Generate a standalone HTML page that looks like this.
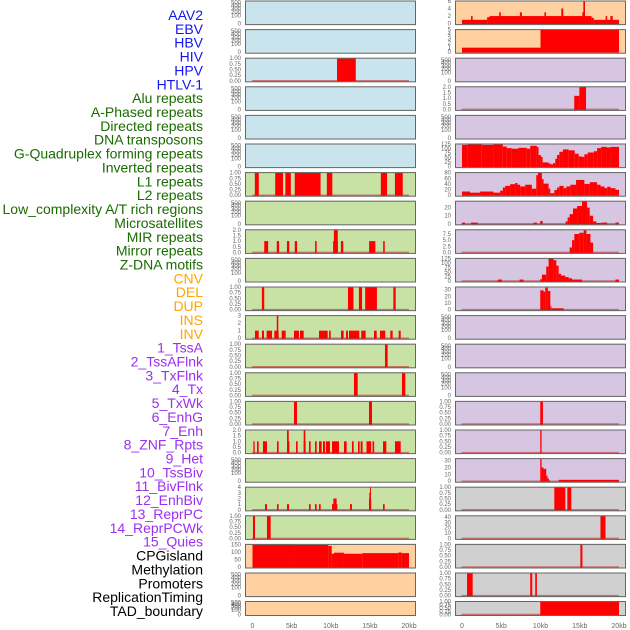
<!DOCTYPE html>
<html><head><meta charset="utf-8">
<style>
html,body{margin:0;padding:0;background:#fff;}
svg{display:block;font-family:"Liberation Sans",sans-serif;}
</style></head>
<body>
<svg id="chart" width="630" height="630" viewBox="0 0 630 630"></svg>
<script>
// ---- labels ----
const trackLabels = ["AAV2","EBV","HBV","HIV","HPV","HTLV-1","Alu repeats","A-Phased repeats","Directed repeats","DNA transposons","G-Quadruplex forming repeats","Inverted repeats","L1 repeats","L2 repeats","Low_complexity A/T rich regions","Microsatellites","MIR repeats","Mirror repeats","Z-DNA motifs","CNV","DEL","DUP","INS","INV","1_TssA","2_TssAFlnk","3_TxFlnk","4_Tx","5_TxWk","6_EnhG","7_Enh","8_ZNF_Rpts","9_Het","10_TssBiv","11_BivFlnk","12_EnhBiv","13_ReprPC","14_ReprPCWk","15_Quies","CPGisland","Methylation","Promoters","ReplicationTiming","TAD_boundary"];
const labelGroups = [6,13,5,15,5];
const groupColors = ["#1515f0","#1a6b00","#ffa500","#9b30ee","#000000"];
const xTicks = [0,5,10,15,20];
const xTickLabels = ["0","5kb","10kb","15kb","20kb"];

// ---- data (kb start, kb end, value) ----
const hivL = [[10.8,13.2,1]];
const l6 = [[0.3,0.8,1],[2.9,3.9,1],[4.2,4.9,1],[5.4,8.7,1],[9.5,10.2,1],[16.4,17.2,1],[18.2,19.2,1]];
const l8 = [[1.5,2.0,1],[3.1,3.4,1],[4.4,4.7,1],[5.4,5.7,1],[8.0,8.2,1],[10.3,10.9,1],[10.4,10.9,2],[11.3,11.6,1],[14.9,15.7,1],[16.7,16.9,1]];
const l10 = [[1.2,1.5,1],[12.2,12.9,1],[13.6,14.0,1],[14.4,15.9,1],[18.0,18.3,1]];
const l11 = [[0.32,0.79,1],[1.21,1.47,1],[1.81,2.49,1],[2.79,3.34,1],[3.1,3.3,3],[3.73,4.24,1],[5.30,5.94,1],[6.07,6.54,1],[8.50,9.61,1],[9.78,9.99,1],[11.31,11.65,1],[11.95,12.20,1],[12.33,13.65,1],[13.90,14.46,1],[15.53,15.87,1],[16.29,16.97,1],[17.61,17.91,1],[18.68,18.94,1]];
const l12 = [[16.93,17.27,1]];
const l13 = [[12.97,13.44,1],[19.1,19.53,1]];
const l14 = [[5.30,5.69,1],[14.89,15.27,1]];
const l15 = [[0.11,0.28,1],[0.58,0.79,1],[1.34,1.85,1],[3.13,3.34,1],[4.41,4.71,1],[4.41,4.63,2],[5.56,5.77,1],[6.54,6.79,1],[6.54,6.75,2],[7.22,7.43,1],[7.99,8.20,1],[8.50,8.84,1],[9.01,9.27,1],[9.39,9.90,1],[10.16,11.05,1],[11.69,12.03,1],[12.71,12.93,1],[13.48,13.69,1],[13.82,14.07,1],[14.57,15.17,1],[15.34,15.55,1],[16.68,17.10,1],[18.21,18.94,1]];
const l17 = [[1.60,1.85,1],[3.13,3.34,1],[4.41,4.67,1],[7.22,7.43,1],[7.99,8.20,1],[8.50,8.71,1],[10.16,10.84,1],[10.33,10.75,2],[12.46,12.71,1],[14.89,15.17,2],[14.93,15.10,3],[15.01,15.10,4],[16.68,16.89,1]];
const l18 = [[0.06,0.32,1],[1.85,2.32,1]];
const cpgEdges = [0,5.3,9.69,10.12,10.42,11.69,14.03,18.64,19.06,20];
const cpgValues = [148,146,140,88,95,88,92,96,92];

const aav2R = [[0,3.2,1],[3.2,3.5,1.7],[3.5,16.5,2],[16.5,16.8,1.5],[16.8,20,1],[1.15,1.36,2],[4.73,4.94,3],[7.37,7.63,3],[10.5,10.7,3],[12.65,12.9,4],[15.33,15.55,3],[15.46,15.67,6],[18.3,18.5,2],[18.9,19.2,2]];
const ebvR = [[0,10,1],[10,20,5]];
const hpvR = [[14.3,14.95,1.2],[14.95,15.8,2]];
const aluEdges = [0,0.72,2.52,4.0,5.2,5.71,6.35,7.2,8.26,8.69,9.54,9.75,10.05,10.27,11.03,11.33,11.59,11.88,12.1,12.4,12.86,13.59,14.36,14.87,15.29,15.59,16.02,16.78,17.21,17.72,18.4,18.91,20];
const aluValues = [120,123,120,123,111,102,99,104,99,115,108,64,54,23,17,12,19,43,64,82,95,90,71,56,54,68,78,85,102,109,106,109];
const l1Edges = [0,1.02,2.30,4.0,4.86,5.2,5.5,6.13,6.77,7.07,7.41,8.05,8.9,9.46,9.67,10.18,10.39,11.03,11.25,11.76,12.1,12.4,12.95,13.29,13.8,14.53,15.59,16.27,17.21,17.64,18.15,18.49,18.91,19.55,20];
const l1Values = [13,9,13,9,16,27,33,39,43,37,31,37,23,71,80,57,41,23,7,18,27,33,25,31,37,54,40,46,37,31,25,30,25,19];
const r7 = [[0,0.38,1.5],[1.15,2.0,1.5],[9.12,9.54,1.5],[9.97,10.27,3.5],[13.2,13.46,3],[13.46,13.72,8],[13.72,14.14,12],[14.14,14.66,19],[14.66,15.29,22],[15.29,15.93,28],[15.93,16.27,20],[16.27,16.7,10],[16.7,17.12,3],[17.12,17.72,1],[17.76,18.49,1.5],[19.55,20,1.5]];
const r8 = [[13.72,14.02,2],[14.02,14.31,5],[14.31,14.95,7.5],[14.95,15.5,8],[15.5,15.85,9],[15.85,16.36,7.5],[16.36,16.7,4]];
const r9 = [[4.56,5.07,8],[7.33,7.84,8],[9.97,10.18,10],[10.18,10.73,35],[10.73,11.03,80],[11.03,11.67,125],[11.67,12.01,115],[12.01,12.31,85],[12.31,12.61,40],[12.61,13.16,30],[13.16,13.59,22],[13.59,14.02,15],[14.02,15.29,8],[19.55,20,8]];
const r10 = [[9.97,10.39,29],[10.39,10.6,27],[10.6,10.94,33],[10.94,11.25,28],[11.25,11.38,5],[11.38,12.95,2]];
const r14 = [[9.97,10.31,1]];
const r15 = [[9.97,10.14,1]];
const r16 = [[9.97,10.14,33],[10.14,10.39,20],[10.39,10.73,18],[10.73,10.9,8],[10.9,11.07,4],[11.07,11.25,1],[12.31,20,2]];
const r17 = [[11.76,13.16,1],[13.42,13.93,1]];
const r18 = [[17.64,18.28,42]];
const r19 = [[15.08,15.34,1]];
const r20 = [[0.64,1.36,1],[8.69,8.95,1],[9.33,9.54,1]];
const r21 = [[9.97,20,1]];

const ticks01 = ["0.00","0.25","0.50","0.75","1.00"];
const ticks02 = ["0.0","0.5","1.0","1.5","2.0"];

// ---- helpers ----
const NS = "http://www.w3.org/2000/svg";
const svg = document.getElementById("chart");
function mk(tag, attrs, parent){ const e=document.createElementNS(NS,tag); for(const k in attrs) e.setAttribute(k,attrs[k]); (parent||svg).appendChild(e); return e; }
function stepSegs(edges, vals){ const s=[]; for(let i=0;i<vals.length;i++) s.push([edges[i],edges[i+1],vals[i]]); return s; }

const colX = [{x0:245,x1:416,d0:252.5,d1:409,tx:241},{x0:455,x1:626,d0:462,d1:619,tx:451}];
function rowTop(i){ return i<21 ? 0.5+i*28.6 : 601; }
function rowH(i){ return i<21 ? 24.6 : 15; }
function xScale(col,kb){ const c=colX[col]; return c.d0 + (c.d1-c.d0)*kb/20; }

const bgL = ["#c9e4ec","#c9e4ec","#c9e4ec","#c9e4ec","#c9e4ec","#c9e4ec","#c8e2a5","#c8e2a5","#c8e2a5","#c8e2a5","#c8e2a5","#c8e2a5","#c8e2a5","#c8e2a5","#c8e2a5","#c8e2a5","#c8e2a5","#c8e2a5","#c8e2a5","#ffd0a0","#ffd0a0","#ffd0a0"];
const bgR = ["#ffd0a0","#ffd0a0","#d6c6e2","#d6c6e2","#d6c6e2","#d6c6e2","#d6c6e2","#d6c6e2","#d6c6e2","#d6c6e2","#d6c6e2","#d6c6e2","#d6c6e2","#d6c6e2","#d6c6e2","#d6c6e2","#d6c6e2","#d0d0d0","#d0d0d0","#d0d0d0","#d0d0d0","#d0d0d0"];

const P = [];
function spec(col,row,segs,tl,tv,ymax,base){ P.push({col,row,segs,tl,tv,ymax,base}); }
const v01=[0,0.25,0.5,0.75,1], v02=[0,0.5,1,1.5,2];
spec(0,2,hivL,ticks01,v01,1,true);
spec(0,6,l6,ticks01,v01,1,true);
spec(0,8,l8,ticks02,v02,2,true);
spec(0,10,l10,ticks01,v01,1,true);
spec(0,11,l11,["0","1","2","3"],[0,1,2,3],3,true);
spec(0,12,l12,ticks01,v01,1,true);
spec(0,13,l13,ticks01,v01,1,true);
spec(0,14,l14,ticks01,v01,1,true);
spec(0,15,l15,ticks02,v02,2,true);
spec(0,17,l17,["0","1","2","3","4"],[0,1,2,3,4],4,true);
spec(0,18,l18,ticks01,v01,1,true);
spec(0,19,stepSegs(cpgEdges,cpgValues),["0","50","100","150"],[0,50,100,150],150,false);
spec(1,0,aav2R,["0","2","4","6"],[0,2,4,6],6,false);
spec(1,1,ebvR,["0","1","2","3","4","5"],[0,1,2,3,4,5],5,false);
spec(1,3,hpvR,ticks02,v02,2,true);
spec(1,5,stepSegs(aluEdges,aluValues),["0","25","50","75","100","125"],[0,25,50,75,100,125],125,false);
spec(1,6,stepSegs(l1Edges,l1Values),["0","20","40","60","80"],[0,20,40,60,80],80,false);
spec(1,7,r7,["0","10","20"],[0,10,20],28,true);
spec(1,8,r8,["0.0","2.5","5.0","7.5"],[0,2.5,5,7.5],9.2,true);
spec(1,9,r9,["0","25","50","75","100","125"],[0,25,50,75,100,125],125,true);
spec(1,10,r10,["0","10","20","30"],[0,10,20,30],34,true);
spec(1,14,r14,ticks01,v01,1,true);
spec(1,15,r15,ticks01,v01,1,true);
spec(1,16,r16,["0","10","20","30"],[0,10,20,30],33,true);
spec(1,17,r17,ticks01,v01,1,true);
spec(1,18,r18,["0","10","20","30","40"],[0,10,20,30,40],42,true);
spec(1,19,r19,ticks01,v01,1,true);
spec(1,20,r20,ticks01,v01,1,true);
spec(1,21,r21,ticks01,v01,1,true);

// ---- labels ----
let li=0;
labelGroups.forEach((n,g)=>{
  for(let k=0;k<n;k++,li++){
    const t=mk("text",{x:203,y:15+li*13.86+5,"text-anchor":"end","font-size":"14",fill:groupColors[g]});
    t.textContent=trackLabels[li];
    
    
  }
});

// ---- panels ----
for(let col=0;col<2;col++){
  for(let r=0;r<22;r++){
    const c=colX[col], top=rowTop(r), h=rowH(r);
    const p=P.find(q=>q.col===col&&q.row===r);
    const g=mk("g",{});
    
    
    mk("rect",{x:c.x0,y:top,width:c.x1-c.x0,height:h,fill:(col?bgR:bgL)[r]},g);
    const y0=top+h-1.5, yr=h-2;
    if(!p){
      const lbl=["0","100","200","300","400","500"], fr=[0,0.36,0.52,0.66,0.8,0.93];
      lbl.forEach((s,i)=>{ const t=mk("text",{x:c.tx,y:y0-fr[i]*yr+2,"text-anchor":"end","font-size":"6",fill:"#666"},g); t.textContent=s;
          });
    } else {
      const ys=v=>y0-Math.min(v,p.ymax)/p.ymax*yr;
      p.tl.forEach((s,i)=>{ const t=mk("text",{x:c.tx,y:ys(p.tv[i])+2,"text-anchor":"end","font-size":"6",fill:"#666"},g); t.textContent=s;
          });
      if(p.base){ const b=mk("line",{x1:xScale(col,-0.05),x2:xScale(col,20),y1:y0,y2:y0,stroke:"#c04848","stroke-width":"1.5","stroke-opacity":"0.7"},g);
          }
      p.segs.forEach(s=>{
        const xa=xScale(col,s[0]), xb=xScale(col,s[1]);
        const bar=mk("rect",{x:xa,y:ys(s[2]),width:Math.max(1,xb-xa),height:y0-ys(s[2])+0.5,fill:"#ff0000"},g);
        
        
      });
    }
    mk("rect",{x:c.x0+0.5,y:top+0.5,width:c.x1-c.x0-1,height:h-1,fill:"none",stroke:"#666","stroke-width":"1"},g);
  }
  xTicks.forEach((v,i)=>{
    const t=mk("text",{x:xScale(col,v),y:628,"text-anchor":"middle","font-size":"7",fill:"#666"});
    t.textContent=xTickLabels[i];
    
    
  });
}
</script>
</body></html>
